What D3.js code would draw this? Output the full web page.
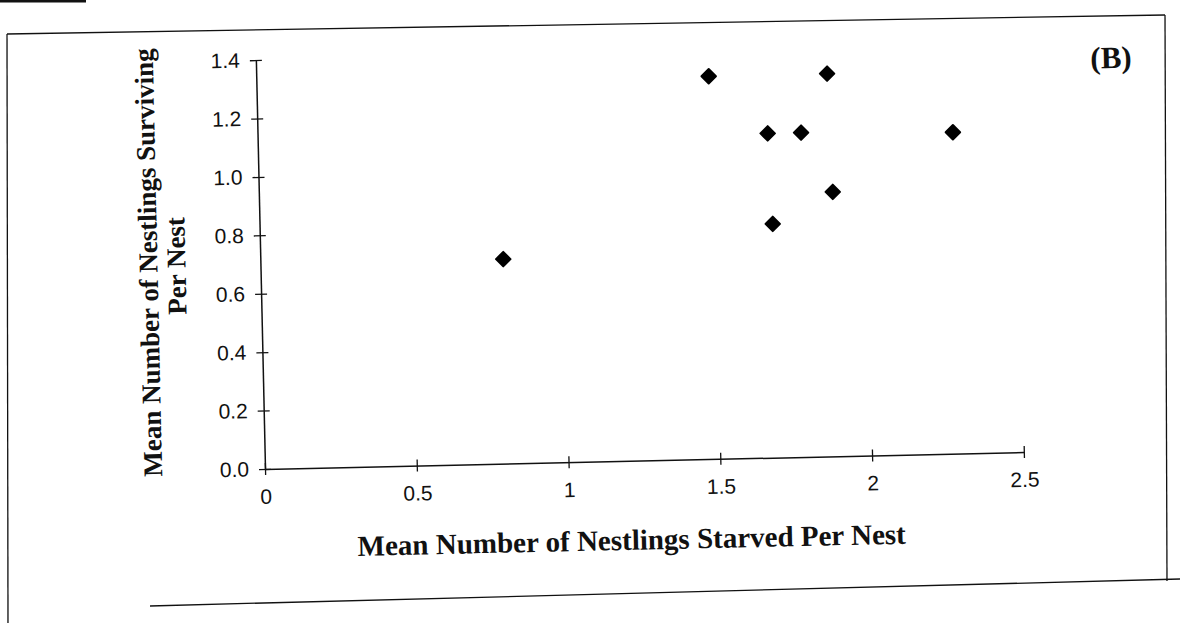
<!DOCTYPE html>
<html><head><meta charset="utf-8">
<script src="https://cdn.jsdelivr.net/npm/d3@7"></script>
<style>html,body{margin:0;padding:0;background:#fff;} svg{display:block;}</style>
</head><body>
<svg id="chart" width="1180" height="623"></svg>
<script>
// Data
const starved   = [0.80, 1.49, 1.68, 1.79, 1.88, 2.29, 1.89, 1.69];
const surviving = [0.70, 1.31, 1.11, 1.11, 1.31, 1.10, 0.905, 0.80];
const xTicks = [0, 0.5, 1, 1.5, 2, 2.5];
const xTickLabels = ["0", "0.5", "1", "1.5", "2", "2.5"];
const yTicks = [0, 0.2, 0.4, 0.6, 0.8, 1.0, 1.2, 1.4];
const yTickLabels = ["0.0", "0.2", "0.4", "0.6", "0.8", "1.0", "1.2", "1.4"];
const xTitle = "Mean Number of Nestlings Starved Per Nest";
const yTitleLines = ["Mean Number of Nestlings Surviving", "Per Nest"];
const panelLabel = "(B)";

const svg = d3.select("#chart");
svg.append("rect").attr("width", 1180).attr("height", 623).attr("fill", "#fff");

// scan frame (screen coords)
const frame = [
  [[7, 34], [1165, 15]],
  [[7, 34], [8, 623]],
  [[1165, 15], [1167, 581]],
  [[150, 606], [1180, 579]]
];
svg.selectAll("line.frame").data(frame).join("line").attr("class", "frame")
  .attr("x1", d => d[0][0]).attr("y1", d => d[0][1])
  .attr("x2", d => d[1][0]).attr("y2", d => d[1][1])
  .attr("stroke", "#111").attr("stroke-width", 1.3);
svg.append("line").attr("x1", 0).attr("y1", 1).attr("x2", 86).attr("y2", 1)
  .attr("stroke", "#111").attr("stroke-width", 3);

const ox = 265, oy = 469;
const g = svg.append("g").attr("transform", `rotate(-1.28, ${ox}, ${oy})`);

const x = d3.scaleLinear().domain([0, 2.5]).range([ox, ox + 759]);
const y = d3.scaleLinear().domain([0, 1.4]).range([oy, oy - 409]);

const tickFont = "'Liberation Sans', Arial, sans-serif";

const yAxis = g.append("g").attr("transform", `translate(${ox},0)`)
  .call(d3.axisLeft(y).tickValues(yTicks).tickFormat((d, i) => yTickLabels[i])
    .tickSizeInner(6).tickSizeOuter(0).tickPadding(10));
yAxis.selectAll(".tick line").attr("x1", -6).attr("x2", 6).attr("stroke", "#111").attr("stroke-width", 1.3);
yAxis.select(".domain").attr("stroke", "#111").attr("stroke-width", 1.5);
yAxis.selectAll(".tick text").attr("font-family", tickFont).attr("font-size", 21).attr("fill", "#111");

const xAxis = g.append("g").attr("transform", `translate(0,${oy})`)
  .call(d3.axisBottom(x).tickValues(xTicks).tickFormat((d, i) => xTickLabels[i])
    .tickSizeInner(6).tickSizeOuter(0).tickPadding(14));
xAxis.selectAll(".tick line").attr("y1", -6).attr("y2", 6).attr("stroke", "#111").attr("stroke-width", 1.3);
xAxis.select(".domain").attr("stroke", "#111").attr("stroke-width", 1.5);
xAxis.selectAll(".tick text").attr("font-family", tickFont).attr("font-size", 21).attr("fill", "#111");

// points
const pts = starved.map((v, i) => ({sx: v, sy: surviving[i]}));
g.selectAll("path.pt").data(pts).join("path").attr("class", "pt")
  .attr("d", d3.symbol().type(d3.symbolSquare).size(105))
  .attr("transform", d => `translate(${x(d.sx)},${y(d.sy)}) rotate(46.28)`)
  .attr("fill", "#000").attr("stroke", "#000").attr("stroke-width", 2).attr("stroke-linejoin", "round");

const serif = "'Liberation Serif', 'Times New Roman', serif";
g.append("text").attr("x", 630).attr("y", 558).attr("text-anchor", "middle")
  .attr("font-family", serif).attr("font-weight", "bold").attr("font-size", 29)
  .attr("fill", "#111").text(xTitle);

const yt = g.append("text").attr("transform", "translate(162,260) rotate(-90)")
  .attr("text-anchor", "middle").attr("font-family", serif).attr("font-weight", "bold")
  .attr("font-size", 27).attr("fill", "#111");
yt.selectAll("tspan").data(yTitleLines).join("tspan")
  .attr("x", (d, i) => i === 0 ? 0 : -4).attr("dy", (d, i) => i === 0 ? 0 : 28).text(d => d);

g.append("text").attr("x", 1120).attr("y", 87).attr("text-anchor", "middle")
  .attr("font-family", serif).attr("font-weight", "bold").attr("font-size", 31)
  .attr("fill", "#111").text(panelLabel);
</script>
</body></html>
